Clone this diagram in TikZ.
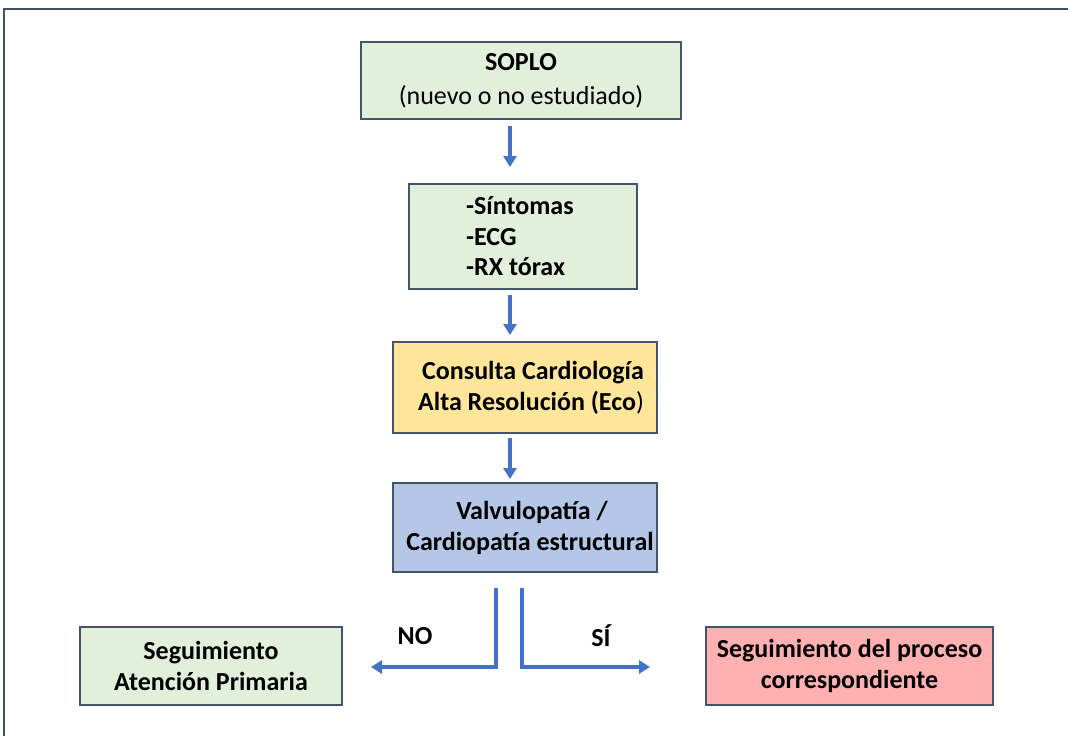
\documentclass[tikz,border=0pt]{standalone}
\usepackage{fontspec}
\setmainfont{Carlito}
\usetikzlibrary{arrows.meta}
\definecolor{gfill}{HTML}{E2EFDA}
\definecolor{yfill}{HTML}{FFE699}
\definecolor{bfill}{HTML}{B4C7E7}
\definecolor{rfill}{HTML}{FFB0B0}
\definecolor{edge}{HTML}{44546A}
\definecolor{arr}{HTML}{4472C4}
\definecolor{frame}{HTML}{3F5070}
\tikzset{
  box/.style={draw=edge, line width=1.1pt, align=center, inner sep=0pt, font=\fontsize{26}{31}\selectfont\bfseries},
  flow/.style={draw=arr, line width=3.2pt, -{Triangle[width=13pt,length=11pt]}},
  lbl/.style={font=\fontsize{26}{30}\selectfont\bfseries, inner sep=0pt}
}
\begin{document}
\begin{tikzpicture}[x=1pt,y=-1pt]
\useasboundingbox (0,0) rectangle (1068,736);
\fill[white] (0,0) rectangle (1068,736);
\draw[frame, line width=1.6pt] (4,740) -- (4,9) -- (1072,9);

\node[box, fill=gfill, minimum width=320pt, minimum height=77pt, font=\fontsize{26}{34}\selectfont\bfseries] (soplo) at (521,80.5)
  {SOPLO\\{\mdseries (nuevo o no estudiado)}};
\node[box, fill=gfill, minimum width=228pt, minimum height=105pt] (sint) at (523,236.5) {};
\node[lbl, align=left, font=\fontsize{26}{30.5}\selectfont\bfseries, anchor=west] (sinttxt) at (466,236.5)
  {-Síntomas\\-ECG\\-RX tórax};
\node[box, fill=yfill, minimum width=264pt, minimum height=91pt] (cons) at (525,387.5) {};
\node[lbl, align=center, font=\fontsize{26}{31}\selectfont\bfseries] (constxt) at (531,387.5)
  {\hspace*{4pt}Consulta Cardiología\\Alta Resolución (Eco{\mdseries )}};
\node[box, fill=bfill, minimum width=264pt, minimum height=89pt] (valv) at (525,527.5) {};
\node[lbl, align=center, font=\fontsize{26}{31}\selectfont\bfseries] (valvtxt) at (530,527.5)
  {\hspace*{4pt}Valvulopatía /\\Cardiopatía estructural};
\node[box, fill=gfill, minimum width=262pt, minimum height=78pt] (ap) at (211,666)
  {Seguimiento\\Atención Primaria};
\node[box, fill=rfill, minimum width=287pt, minimum height=78pt] (proc) at (849.5,666)
  {Seguimiento del proceso\\correspondiente};

\coordinate (a1s) at (510,126);
\coordinate (a1e) at (510,167);
\coordinate (a2s) at (510,295);
\coordinate (a2e) at (510,335);
\coordinate (a3s) at (510,438);
\coordinate (a3e) at (510,479);
\draw[flow] (a1s) -- (a1e);
\draw[flow] (a2s) -- (a2e);
\draw[flow] (a3s) -- (a3e);

\coordinate (nos) at (496,588);
\coordinate (noc) at (496,667);
\coordinate (noe) at (371,667);
\coordinate (sis) at (522,588);
\coordinate (sic) at (522,667);
\coordinate (sie) at (650,667);
\draw[flow] (nos) -- (noc) -- (noe);
\draw[flow] (sis) -- (sic) -- (sie);

\node[lbl] (no) at (415,636) {NO};
\node[lbl] (si) at (601,636) {SÍ};
\end{tikzpicture}
\end{document}
